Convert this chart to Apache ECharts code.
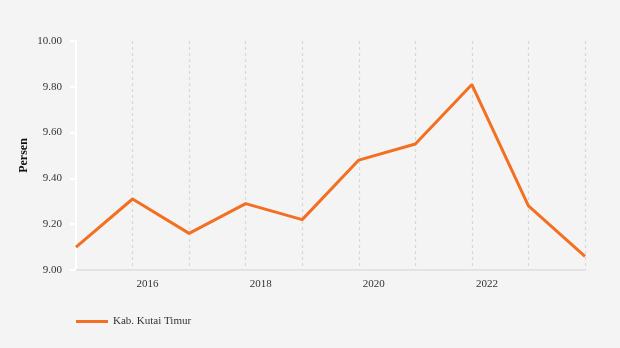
<!DOCTYPE html>
<html>
<head>
<meta charset="utf-8">
<script src="https://cdn.jsdelivr.net/npm/echarts@6/dist/echarts.min.js"></script>
<style>
  html, body { margin: 0; padding: 0; background: #f4f4f4; }
  #chart { width: 620px; height: 348px; }
</style>
</head>
<body>
<div id="chart"></div>
<script>
// Annual percentage series, 2015–2024
const years = ['2015', '2016', '2017', '2018', '2019', '2020', '2021', '2022', '2023', '2024'];
const kutaiTimur = [9.10, 9.31, 9.16, 9.29, 9.22, 9.48, 9.55, 9.81, 9.28, 9.06];
const yearLabels = ['2016', '2018', '2020', '2022'];
const seriesName = 'Kab. Kutai Timur';
const axisTitle = 'Persen';

const fontFamily = '"Liberation Serif", "DejaVu Serif", serif';

const chart = echarts.init(document.getElementById('chart'));
chart.setOption({
  backgroundColor: '#f4f4f4',
  animation: false,
  textStyle: { fontFamily: fontFamily },
  grid: { left: 76, right: 35, top: 41, bottom: 78 },
  legend: {
    left: 71, top: 311,
    itemWidth: 32, itemHeight: 12, itemGap: 10,
    icon: 'path://M0,5 L32,5 L32,8 L0,8 Z',
    textStyle: { fontFamily: fontFamily, fontSize: 11, color: '#333' },
    data: [seriesName]
  },
  xAxis: {
    type: 'category',
    data: years,
    boundaryGap: false,
    axisLine: { lineStyle: { color: '#e3e3e3', width: 2 } },
    axisTick: { show: false },
    axisLabel: {
      interval: 0,
      align: 'left',
      margin: 9,
      padding: [0, 0, 0, 4],
      fontFamily: fontFamily,
      fontSize: 11,
      color: '#333',
      formatter: v => (yearLabels.includes(v) ? v : '')
    },
    splitLine: { show: true, lineStyle: { color: '#d8d8d8', type: [3, 3], width: 1.2 } }
  },
  yAxis: {
    type: 'value',
    min: 9.0, max: 10.0, interval: 0.2,
    name: axisTitle,
    nameLocation: 'middle',
    nameGap: 46,
    nameMoveOverlap: false,
    nameRotate: 90,
    nameTextStyle: { fontFamily: fontFamily, fontWeight: 'bold', fontSize: 12, color: '#111' },
    axisLine: { show: true, lineStyle: { color: '#ffffff', width: 2 } },
    axisTick: { show: true, length: 6, lineStyle: { color: '#ffffff', width: 2 } },
    axisLabel: {
      margin: 14,
      fontFamily: fontFamily,
      fontSize: 11,
      color: '#333',
      formatter: v => v.toFixed(2)
    },
    splitLine: { show: false }
  },
  series: [{
    name: seriesName,
    type: 'line',
    data: kutaiTimur,
    symbol: 'none',
    lineStyle: { color: '#f36f21', width: 3 },
    itemStyle: { color: '#f36f21' }
  }]
});
</script>
</body>
</html>
